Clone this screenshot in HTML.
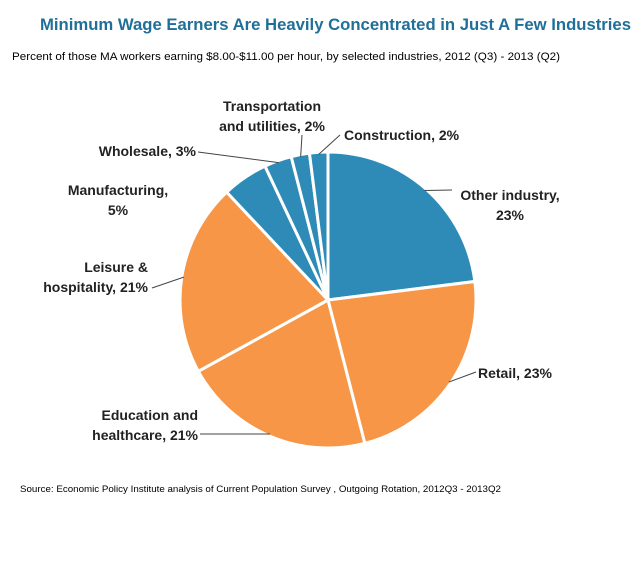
<!DOCTYPE html>
<html><head><meta charset="utf-8"><style>
body{margin:0;background:#fff;font-family:"Liberation Sans",sans-serif;}
svg text{font-family:"Liberation Sans",sans-serif;}
</style></head><body>
<svg width="639" height="564" viewBox="0 0 639 564">
<text x="40" y="30" textLength="591" lengthAdjust="spacingAndGlyphs" font-size="17" font-weight="bold" fill="#1f6f99">Minimum Wage Earners Are Heavily Concentrated in Just A Few Industries</text>
<text x="12" y="60" textLength="548" lengthAdjust="spacingAndGlyphs" font-size="11" fill="#000">Percent of those MA workers earning $8.00-$11.00 per hour, by selected industries, 2012 (Q3) - 2013 (Q2)</text>
<g id="slices"></g>
<g id="labels" font-size="14" font-weight="bold" fill="#222"></g>
<text x="20" y="492" textLength="481" lengthAdjust="spacingAndGlyphs" font-size="9.5" fill="#000">Source: Economic Policy Institute analysis of Current Population Survey , Outgoing Rotation, 2012Q3 - 2013Q2</text>
</svg>
<script>
const categories=["Other industry","Retail","Education and healthcare","Leisure & hospitality","Manufacturing","Wholesale","Transportation and utilities","Construction"];
const values=[23,23,21,21,5,3,2,2];
const colors=["#2e8bb7","#f79646","#f79646","#f79646","#2e8bb7","#2e8bb7","#2e8bb7","#2e8bb7"];
const labelLines=[["Other industry,","23%"],["Retail, 23%"],["Education and","healthcare, 21%"],["Leisure &","hospitality, 21%"],["Manufacturing,","5%"],["Wholesale, 3%"],["Transportation","and utilities, 2%"],["Construction, 2%"]];
const labelPos=[[510,200,"middle"],[478,378,"start"],[198,420,"end"],[148,272,"end"],[118,195,"middle"],[196,156,"end"],[272,111,"middle"],[344,140,"start"]];
const cx=328,cy=300,r=148;
const ns="http://www.w3.org/2000/svg";
const total=values.reduce((a,b)=>a+b,0);
function pt(frac,rad){const a=frac*2*Math.PI;return [cx+rad*Math.sin(a),cy-rad*Math.cos(a)];}
const gS=document.getElementById('slices'),gL=document.getElementById('labels');
let acc=0;
values.forEach((v,i)=>{
  const f0=acc/total,f1=(acc+v)/total;acc+=v;
  const p0=pt(f0,r),p1=pt(f1,r);
  const large=(f1-f0)>0.5?1:0;
  const p=document.createElementNS(ns,'path');
  p.setAttribute('d',`M${cx},${cy}L${p0[0]},${p0[1]}A${r},${r} 0 ${large} 1 ${p1[0]},${p1[1]}Z`);
  p.setAttribute('fill',colors[i]);p.setAttribute('stroke','#fff');p.setAttribute('stroke-width','3');
  
  
  gS.appendChild(p);
  const fm=(f0+f1)/2,e=pt(fm,r-2);
  const [lx,ly,anc]=labelPos[i];
  const lines=labelLines[i];
  const t=document.createElementNS(ns,'text');
  t.setAttribute('x',lx);t.setAttribute('y',ly);t.setAttribute('text-anchor',anc);
  
  
  lines.forEach((s,k)=>{const ts=document.createElementNS(ns,'tspan');ts.setAttribute('x',lx);ts.setAttribute('dy',k?20:0);ts.textContent=s;t.appendChild(ts);});
  gL.appendChild(t);
  let ax,ay;
  if(i==0){ax=lx-58;ay=ly-10;}else if(i==1){ax=lx-2;ay=ly-6;}else if(i==2){ax=lx+2;ay=ly+14;}
  else if(i==3){ax=lx+4;ay=ly+16;}else if(i==4){return;}else if(i==5){ax=lx+2;ay=ly-4;}
  else if(i==6){ax=lx+30;ay=ly+24;}else{ax=lx-4;ay=ly-5;}
  const l=document.createElementNS(ns,'line');
  l.setAttribute('x1',ax);l.setAttribute('y1',ay);l.setAttribute('x2',e[0]);l.setAttribute('y2',e[1]);
  l.setAttribute('stroke','#444');l.setAttribute('stroke-width','1');
  
  
  gL.appendChild(l);
});
</script>
</body></html>
